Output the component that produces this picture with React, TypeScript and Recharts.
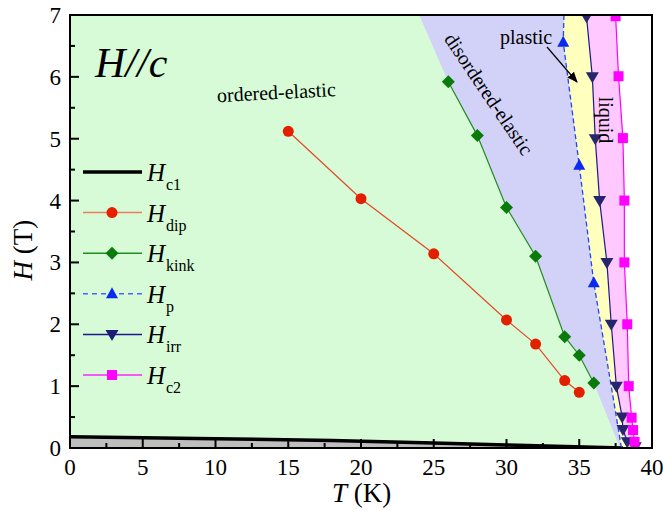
import { ComposedChart, Area, Line, Scatter, XAxis, YAxis } from "recharts"

// temperature (K) / field (T)
const dipT = [15, 20, 25, 30, 32, 34, 35]
const dipH = [5.12, 4.03, 3.14, 2.07, 1.68, 1.09, 0.9]
const kinkT = [26, 28, 30, 32, 34, 35, 36]
const kinkH = [5.92, 5.05, 3.89, 3.1, 1.8, 1.5, 1.05]
const pT = [33.9, 35, 36]
const pH = [6.56, 4.57, 2.67]
const irrT = [35.5, 35.9, 36.1, 36.4, 36.9, 37.2, 37.55, 37.95, 38.0, 38.3, 38.85]
const irrH = [6.97, 6.0, 5.0, 4.0, 3.0, 2.0, 1.0, 0.5, 0.3, 0.1, 0.02]
const c2T = [37.5, 37.7, 38.0, 38.1, 38.1, 38.3, 38.4, 38.6, 38.7, 38.8]
const c2H = [6.98, 6.01, 5.01, 4.0, 3.0, 2.0, 1.0, 0.49, 0.29, 0.1]
const c1T = [0, 10, 18, 25, 30, 38]
const c1H = [0.18, 0.15, 0.12, 0.08, 0.05, 0]

// phase boundaries (where they run past the measured points)
const pEdgeT = [33.95, 33.9, 35, 36, 37.2, 37.9]
const pEdgeH = [7, 6.56, 4.57, 2.67, 1.0, 0]
const elasticEdgeT = [24, 26, 28, 30, 32, 34, 35, 36, 37.8]
const elasticEdgeH = [7, 5.92, 5.05, 3.89, 3.1, 1.8, 1.5, 1.05, 0]

const xTicks = [0, 2.5, 5, 7.5, 10, 12.5, 15, 17.5, 20, 22.5, 25, 27.5, 30, 32.5, 35, 37.5, 40]
const yTicks = [0, 0.5, 1, 1.5, 2, 2.5, 3, 3.5, 4, 4.5, 5, 5.5, 6, 6.5, 7]

const T_MAX = 40
const H_MAX = 7

const pts = (t: number[], h: number[]) => t.map((T, i) => ({ T, H: h[i] }))
// region left of a boundary: flat at the top edge until the boundary starts
const region = (t: number[], h: number[]) => [{ T: 0, H: H_MAX }, { T: t[0], H: H_MAX }, ...pts(t, h)]

const serif = "'Liberation Serif', 'Times New Roman', serif"
const W = 663
const H = 510

function BottomTick(props: any) {
  const { x, y, payload } = props
  const major = payload.value % 5 === 0
  return (
    <g>
      <line x1={x} y1={y} x2={x} y2={y - (major ? 9 : 5)} stroke="#000" strokeWidth={2} />
      {major && (
        <text x={x} y={y + 27} textAnchor="middle" fontSize={23} fontFamily={serif} fill="#000">
          {payload.value}
        </text>
      )}
    </g>
  )
}

function TopTick(props: any) {
  const { x, y, payload } = props
  const major = payload.value % 5 === 0
  return <line x1={x} y1={y} x2={x} y2={y + (major ? 9 : 5)} stroke="#000" strokeWidth={2} />
}

function LeftTick(props: any) {
  const { x, y, payload } = props
  const major = payload.value % 1 === 0
  return (
    <g>
      <line x1={x} y1={y} x2={x + (major ? 9 : 5)} y2={y} stroke="#000" strokeWidth={2} />
      {major && (
        <text x={x - 9} y={y + 8} textAnchor="end" fontSize={23} fontFamily={serif} fill="#000">
          {payload.value}
        </text>
      )}
    </g>
  )
}

function RightTick(props: any) {
  const { x, y, payload } = props
  const major = payload.value % 1 === 0
  return <line x1={x} y1={y} x2={x - (major ? 9 : 5)} y2={y} stroke="#000" strokeWidth={2} />
}

const circle = (c: string) => (p: any) => <circle cx={p.cx} cy={p.cy} r={5.5} fill={c} />
const diamond = (c: string) => (p: any) => (
  <polygon points={`${p.cx},${p.cy - 6.5} ${p.cx + 6.5},${p.cy} ${p.cx},${p.cy + 6.5} ${p.cx - 6.5},${p.cy}`} fill={c} />
)
const triUp = (c: string) => (p: any) => (
  <polygon points={`${p.cx},${p.cy - 6.5} ${p.cx + 6},${p.cy + 4.5} ${p.cx - 6},${p.cy + 4.5}`} fill={c} />
)
const triDown = (c: string) => (p: any) => (
  <polygon points={`${p.cx},${p.cy + 6.5} ${p.cx + 6.5},${p.cy - 4.5} ${p.cx - 6.5},${p.cy - 4.5}`} fill={c} />
)
const square = (c: string) => (p: any) => <rect x={p.cx - 5} y={p.cy - 5} width={10} height={10} fill={c} />

const legendRows = [
  { name: "c1", line: "#000", width: 3.5, dash: undefined, marker: null },
  { name: "dip", line: "#ee7b62", width: 1.5, dash: undefined, marker: circle("#e82000") },
  { name: "kink", line: "#228b22", width: 1.5, dash: undefined, marker: diamond("#0a7a0a") },
  { name: "p", line: "#4a62ff", width: 1.5, dash: "5 4", marker: triUp("#0a2af0") },
  { name: "irr", line: "#1a1a8c", width: 1.5, dash: undefined, marker: triDown("#1d1d78") },
  { name: "c2", line: "#ff22ff", width: 1.5, dash: undefined, marker: square("#ff00ff") },
]

// plot box: x 70..652, y 15..448
const box = { left: 70, top: 15, right: 652, bottom: 448 }

function Overlay() {
  return (
    <svg width={W} height={H} style={{ position: "absolute", left: 0, top: 0, pointerEvents: "none" }}>
      <defs>
        <marker id="arr" viewBox="0 0 10 10" refX={9} refY={5} markerWidth={9} markerHeight={9} orient="auto">
          <path d="M0,1 L10,5 L0,9 z" fill="#000" />
        </marker>
      </defs>
      <rect x={box.left} y={box.top} width={box.right - box.left} height={box.bottom - box.top}
        fill="none" stroke="#000" strokeWidth={2} />
      <g fontFamily={serif} fill="#000">
        <text x={95} y={77} fontSize={42} fontStyle="italic">H//c</text>
        <text x={217} y={99} fontSize={20} transform="rotate(-3 278 94)">ordered-elastic</text>
        <text x={489} y={94} fontSize={20} textAnchor="middle" dominantBaseline="central" transform="rotate(56 489 94)">
          disordered-elastic
        </text>
        <text x={500} y={44} fontSize={20}>plastic</text>
        <text x={606} y={120} fontSize={20} textAnchor="middle" dominantBaseline="central" transform="rotate(90 606 120)">
          liquid
        </text>
        <line x1={547} y1={47} x2={577} y2={82} stroke="#000" strokeWidth={1.2} markerEnd="url(#arr)" />
        <text x={332} y={502} fontSize={27}>
          <tspan fontStyle="italic">T</tspan>
          <tspan> (K)</tspan>
        </text>
        <text x={32} y={250} fontSize={27} textAnchor="middle" transform="rotate(-90 32 250)">
          <tspan fontStyle="italic">H</tspan>
          <tspan> (T)</tspan>
        </text>
        {legendRows.map((r, i) => {
          const y = 172 + i * 40.6
          return (
            <g key={r.name}>
              <line x1={83} y1={y} x2={142} y2={y} stroke={r.line} strokeWidth={r.width} strokeDasharray={r.dash} />
              {r.marker && r.marker({ cx: 112, cy: y })}
              <text x={147} y={y + 9} fontSize={25} fontStyle="italic">H</text>
              <text x={166} y={y + 18} fontSize={16}>{r.name}</text>
            </g>
          )
        })}
      </g>
    </svg>
  )
}

const plotMargin = { top: box.top, right: W - box.right, bottom: H - box.bottom, left: box.left }
const frameMargin = { top: 10, right: 6, bottom: 22, left: 10 }
const layer = { position: "absolute" as const, left: 0, top: 0 }

export default function App() {
  return (
    <div style={{ position: "absolute", left: 0, top: 0, width: W, height: H, background: "#fff" }}>
      <div style={layer}>
        <ComposedChart width={W} height={H} margin={plotMargin}>
          <XAxis dataKey="T" type="number" domain={[0, T_MAX]} allowDataOverflow hide />
          <YAxis dataKey="H" type="number" domain={[0, H_MAX]} allowDataOverflow hide />

          {/* phase regions */}
          <Area data={region(c2T, c2H)} dataKey="H" type="linear" stroke="none" fill="#ffc8ff" fillOpacity={1} isAnimationActive={false} />
          <Area data={region(irrT, irrH)} dataKey="H" type="linear" stroke="none" fill="#ffffbe" fillOpacity={1} isAnimationActive={false} />
          <Area data={[{ T: 0, H: H_MAX }, ...pts(pEdgeT, pEdgeH)]} dataKey="H" type="linear" stroke="none" fill="#d2d2f8" fillOpacity={1} isAnimationActive={false} />
          <Area data={[{ T: 0, H: H_MAX }, ...pts(elasticEdgeT, elasticEdgeH)]} dataKey="H" type="linear" stroke="none" fill="#d6fbd6" fillOpacity={1} isAnimationActive={false} />
          <Area data={pts(c1T, c1H)} dataKey="H" type="linear" stroke="#000" strokeWidth={3.5} fill="#bebebe" fillOpacity={1} isAnimationActive={false} />

          <Line data={pts(dipT, dipH)} dataKey="H" type="linear" stroke="#e24a28" strokeWidth={1.2} dot={false} activeDot={false} isAnimationActive={false} />
          <Line data={pts(kinkT, kinkH)} dataKey="H" type="linear" stroke="#228b22" strokeWidth={1.2} dot={false} activeDot={false} isAnimationActive={false} />
          <Line data={pts(pEdgeT, pEdgeH)} dataKey="H" type="linear" stroke="#2244ff" strokeWidth={1.3} strokeDasharray="5 3" dot={false} activeDot={false} isAnimationActive={false} />
          <Line data={pts(irrT, irrH)} dataKey="H" type="linear" stroke="#1a1a8c" strokeWidth={1.2} dot={false} activeDot={false} isAnimationActive={false} />
          <Line data={pts(c2T, c2H)} dataKey="H" type="linear" stroke="#ff00ff" strokeWidth={1.2} dot={false} activeDot={false} isAnimationActive={false} />

          <Scatter data={pts(dipT, dipH)} shape={circle("#e22000")} isAnimationActive={false} />
          <Scatter data={pts(kinkT, kinkH)} shape={diamond("#0a7a0a")} isAnimationActive={false} />
          <Scatter data={pts(pT, pH)} shape={triUp("#0a2af0")} isAnimationActive={false} />
          <Scatter data={pts(irrT, irrH)} shape={triDown("#26266e")} isAnimationActive={false} />
          <Scatter data={pts(c2T, c2H)} shape={square("#ff00ff")} isAnimationActive={false} />
        </ComposedChart>
      </div>
      <Overlay />
      {/* axes with inward ticks, on top of everything */}
      <div style={layer}>
        <ComposedChart width={W} height={H} margin={frameMargin}>
          <XAxis dataKey="T" type="number" domain={[0, T_MAX]} ticks={xTicks} interval={0}
            height={40} tickSize={0} tickMargin={0} tickLine={false} tick={<BottomTick />}
            axisLine={{ stroke: "#000", strokeWidth: 2 }} />
          <XAxis xAxisId="top" orientation="top" dataKey="T" type="number" domain={[0, T_MAX]} ticks={xTicks} interval={0}
            height={5} tickSize={0} tickMargin={0} tickLine={false} tick={<TopTick />}
            axisLine={{ stroke: "#000", strokeWidth: 2 }} />
          <YAxis dataKey="H" type="number" domain={[0, H_MAX]} ticks={yTicks} interval={0}
            width={60} tickSize={0} tickMargin={0} tickLine={false} tick={<LeftTick />}
            axisLine={{ stroke: "#000", strokeWidth: 2 }} />
          <YAxis yAxisId="right" orientation="right" dataKey="H" type="number" domain={[0, H_MAX]} ticks={yTicks} interval={0}
            width={5} tickSize={0} tickMargin={0} tickLine={false} tick={<RightTick />}
            axisLine={{ stroke: "#000", strokeWidth: 2 }} />
          <Line data={pts(c1T, c1H)} dataKey="H" stroke="none" dot={false} activeDot={false} isAnimationActive={false} />
        </ComposedChart>
      </div>
    </div>
  )
}
